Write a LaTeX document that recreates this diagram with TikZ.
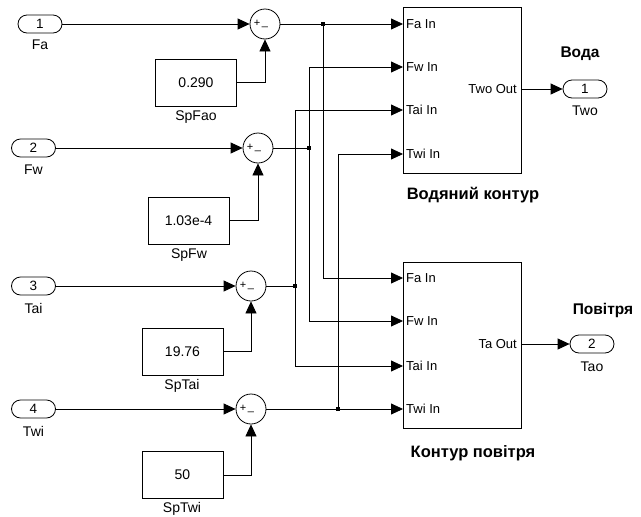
\documentclass[tikz,border=0pt]{standalone}
\usepackage{fontspec}
\setmainfont{Liberation Sans}
\usetikzlibrary{arrows.meta,shapes.misc}
\begin{document}
\begin{tikzpicture}[x=1pt,y=-1pt,
  wire/.style={line width=0.8pt},
  arr/.style={wire,-{Triangle[length=12pt,width=11pt]}},
  port/.style={draw,line width=0.8pt,rounded rectangle,minimum width=44pt,minimum height=18pt,inner sep=0pt,font=\fontsize{13.5}{15}\selectfont},
  sumb/.style={draw,line width=0.8pt,circle,minimum size=30pt,inner sep=0pt},
  constb/.style={draw,line width=0.8pt,minimum width=81pt,minimum height=47pt,inner sep=0pt,font=\fontsize{14}{16}\selectfont},
  blk/.style={draw,line width=0.8pt,minimum width=118pt,minimum height=166pt,inner sep=0pt},
  lbl/.style={font=\fontsize{14}{16}\selectfont,inner sep=0pt},
  plbl/.style={font=\fontsize{13}{15}\selectfont,inner sep=0pt},
  ttl/.style={font=\bfseries\fontsize{16.5}{18}\selectfont,inner sep=0pt},
  sgn/.style={font=\fontsize{11}{12}\selectfont,inner sep=0pt},
  dot/.style={fill=black,minimum size=4pt,inner sep=0pt,rectangle}
]
\useasboundingbox (0,0) rectangle (641,517);

% inports
\node[port] (in1) at (40,24) {1};
\node[lbl] (l1) at (40,45) {Fa};
\node[port] (in2) at (33.5,148) {2};
\node[lbl] (l2) at (33.5,170) {Fw};
\node[port] (in3) at (33.5,286) {3};
\node[lbl] (l3) at (33.5,308) {Tai};
\node[port] (in4) at (33.5,409) {4};
\node[lbl] (l4) at (33.5,431) {Twi};

% sums
\foreach \n/\x/\y in {s1/265/24, s2/258/148, s3/251/286, s4/251/409}{
  \node[sumb] (\n) at (\x,\y) {};
  \node[sgn] at (\x-8,\y-1) {+};
  \node[sgn] at (\x,\y+3) {\_};
}

% constants
\node[constb] (c1) at (196,82.5) {0.290};
\node[lbl] (cl1) at (196,117) {SpFao};
\node[constb] (c2) at (188.5,220.5) {1.03e-4};
\node[lbl] (cl2) at (189,255) {SpFw};
\node[constb] (c3) at (182.5,351.5) {19.76};
\node[lbl] (cl3) at (182,386) {SpTai};
\node[constb] (c4) at (182.5,475) {50};
\node[lbl] (cl4) at (182,509) {SpTwi};

% blocks
\node[blk] (b1) at (462,90) {};
\node[blk] (b2) at (462,345) {};
\node[ttl] (t1) at (473,195) {Водяний контур};
\node[ttl] (t2) at (473,453) {Контур повітря};

% block ports
\foreach \b/\ya/\yb/\yc/\yd in {b1/24/67/110/154, b2/278/321/366/409}{
  \coordinate (\b fa) at (403,\ya);
  \coordinate (\b fw) at (403,\yb);
  \coordinate (\b tai) at (403,\yc);
  \coordinate (\b twi) at (403,\yd);
  \node[plbl,anchor=west] at (406,\ya) {Fa In};
  \node[plbl,anchor=west] at (406,\yb) {Fw In};
  \node[plbl,anchor=west] at (406,\yc) {Tai In};
  \node[plbl,anchor=west] at (406,\yd) {Twi In};
}
\coordinate (b1out) at (521,89);
\coordinate (b2out) at (521,344);
\node[plbl,anchor=east] at (517,89) {Two Out};
\node[plbl,anchor=east] at (517,344) {Ta Out};

% outports
\node[port] (o1) at (585,89) {1};
\node[lbl] (ol1) at (585,111) {Two};
\node[port] (o2) at (592,344) {2};
\node[lbl] (ol2) at (592,367) {Tao};
\node[ttl,font=\bfseries\fontsize{15.5}{17}\selectfont] (w1) at (580,54) {Вода};
\node[ttl,font=\bfseries\fontsize{15.5}{17}\selectfont] (w2) at (603,310) {Повітря};

% junctions
\node[dot] (j1) at (323,24) {};
\node[dot] (j2) at (309,148) {};
\node[dot] (j3) at (295,286) {};
\node[dot] (j4) at (338,409) {};

% wires
\draw[arr] (in1.east) -- (s1.west);
\draw[arr] (in2.east) -- (s2.west);
\draw[arr] (in3.east) -- (s3.west);
\draw[arr] (in4.east) -- (s4.west);
\draw[arr] (c1.east) -| (s1.south);
\draw[arr] (c2.east) -| (s2.south);
\draw[arr] (c3.east) -| (s3.south);
\draw[arr] (c4.east) -| (s4.south);

\draw[arr] (s1.east) -- (b1fa);
\draw[arr] (j1.center) |- (b2fa);
\draw[wire] (s2.east) -- (j2.center);
\draw[arr] (j2.center) |- (b1fw);
\draw[arr] (j2.center) |- (b2fw);
\draw[wire] (s3.east) -- (j3.center);
\draw[arr] (j3.center) |- (b1tai);
\draw[arr] (j3.center) |- (b2tai);
\draw[arr] (s4.east) -- (b2twi);
\draw[arr] (j4.center) |- (b1twi);

\draw[arr] (b1out) -- (o1.west);
\draw[arr] (b2out) -- (o2.west);
\end{tikzpicture}
\end{document}
